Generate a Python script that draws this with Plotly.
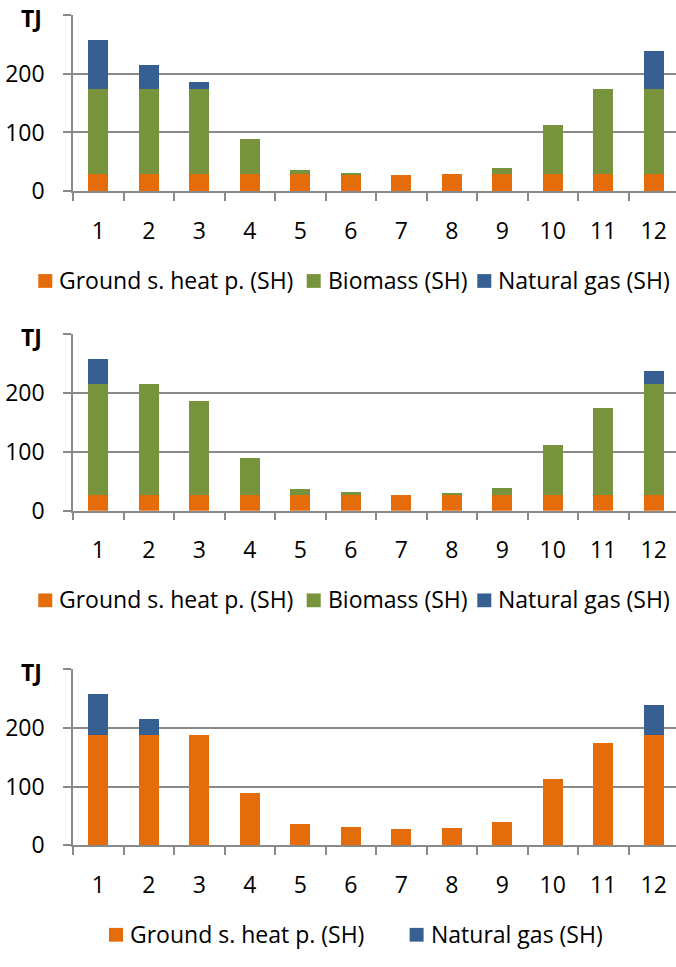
import plotly.graph_objects as go

# Monthly space-heating supply (TJ) for three scenarios
months = ["1", "2", "3", "4", "5", "6", "7", "8", "9", "10", "11", "12"]

# Scenario A
a_ground = [29, 29, 29, 29, 29, 29, 27, 29, 29, 29, 29, 29]
a_biomass = [145, 145, 145, 60, 8, 2, 0, 0, 10, 83, 145, 145]
a_gas = [83, 41, 12, 0, 0, 0, 0, 0, 0, 0, 0, 64]

# Scenario B
b_ground = [27, 27, 27, 27, 27, 27, 27, 27, 27, 27, 27, 27]
b_biomass = [188, 188, 160, 62, 10, 4, 0, 3, 12, 85, 147, 188]
b_gas = [42, 0, 0, 0, 0, 0, 0, 0, 0, 0, 0, 23]

# Scenario C
c_ground = [187, 187, 187, 89, 37, 31, 27, 30, 39, 112, 174, 187]
c_gas = [70, 28, 0, 0, 0, 0, 0, 0, 0, 0, 0, 51]

y_ticks = [0, 100, 200, 300]
y_tick_text = ["0", "100", "200", ""]

ORANGE = "#E46C0A"
GREEN = "#77933C"
BLUE = "#376092"
GRID = "#898989"
FONT = "Open Sans"
FS = 23

W, H = 676, 967

fig = go.Figure()

panels = [
    ("", [("Ground s. heat p. (SH)", a_ground, ORANGE),
          ("Biomass (SH)", a_biomass, GREEN),
          ("Natural gas (SH)", a_gas, BLUE)]),
    ("2", [("Ground s. heat p. (SH)", b_ground, ORANGE),
           ("Biomass (SH)", b_biomass, GREEN),
           ("Natural gas (SH)", b_gas, BLUE)]),
    ("3", [("Ground s. heat p. (SH)", c_ground, ORANGE),
           ("Natural gas (SH)", c_gas, BLUE)]),
]

for suffix, series in panels:
    for name, vals, col in series:
        fig.add_trace(go.Bar(
            x=months, y=vals, name=name,
            marker=dict(color=col, line=dict(width=0)),
            xaxis="x" + suffix, yaxis="y" + suffix,
            showlegend=False,
        ))

# pixel geometry of each panel: (y of zero line, y of 300 line, legend centre)
geom = [(194.3, 15.0, 285.4), (518.7, 339.3, 609.8), (858.7, 679.3, 949.5)]
# left edge of each legend swatch, per panel
legend_x = [[38.3, 306.7, 477.3], [38.3, 306.7, 477.3], [109.0, 409.6]]
SW = 14  # swatch size in px
x0 = 73 / W

layout = dict(
    width=W, height=H, autosize=False,
    margin=dict(l=0, r=0, t=0, b=0),
    paper_bgcolor="white", plot_bgcolor="white",
    barmode="stack", bargap=0.6,
    font=dict(family=FONT, size=FS, color="#000000"),
    showlegend=False,
)

annotations = []
shapes = []
for i, (suffix, series) in enumerate(panels):
    y_zero, y_top, y_leg = geom[i]
    layout["xaxis" + suffix] = dict(
        domain=[x0, 1.0], anchor="y" + suffix,
        type="category", range=[-0.5, 11.44],
        showline=True, linecolor=GRID, linewidth=1.5,
        ticks="outside", ticklen=8, tickwidth=1.5, tickcolor=GRID,
        tickson="boundaries", showgrid=False,
        tickfont=dict(family=FONT, size=FS, color="#000000"),
        ticklabelstandoff=18,
        fixedrange=True,
    )
    layout["yaxis" + suffix] = dict(
        domain=[1 - y_zero / H, 1 - y_top / H], anchor="x" + suffix,
        range=[0, 300], tickvals=y_ticks, ticktext=y_tick_text,
        showline=True, linecolor=GRID, linewidth=1.5,
        ticks="outside", ticklen=8, tickwidth=1.5, tickcolor=GRID,
        showgrid=True, gridcolor=GRID, gridwidth=1.5,
        zeroline=False,
        tickfont=dict(family=FONT, size=FS, color="#000000"),
        ticklabelstandoff=14,
        fixedrange=True,
    )
    # unit label
    annotations.append(dict(
        text="<b>TJ</b>", xref="paper", yref="paper",
        x=19 / W, y=1 - (y_top + 3.5) / H, xanchor="left", yanchor="middle",
        showarrow=False, font=dict(family=FONT, size=FS, color="#000000"),
    ))
    # legend: colour swatch + series name
    for (name, _, col), lx in zip(series, legend_x[i]):
        shapes.append(dict(
            type="rect", xref="paper", yref="paper",
            x0=lx / W, x1=(lx + SW) / W,
            y0=1 - (y_leg - SW / 2) / H, y1=1 - (y_leg + SW / 2) / H,
            fillcolor=col, line=dict(width=0),
        ))
        annotations.append(dict(
            text=name, xref="paper", yref="paper",
            x=(lx + SW + 5) / W, y=1 - (y_leg - 1) / H,
            xanchor="left", yanchor="middle", showarrow=False,
            font=dict(family=FONT, size=FS, color="#000000"),
        ))

layout["annotations"] = annotations
layout["shapes"] = shapes
fig.update_layout(**layout)

fig.write_html("out.html")
